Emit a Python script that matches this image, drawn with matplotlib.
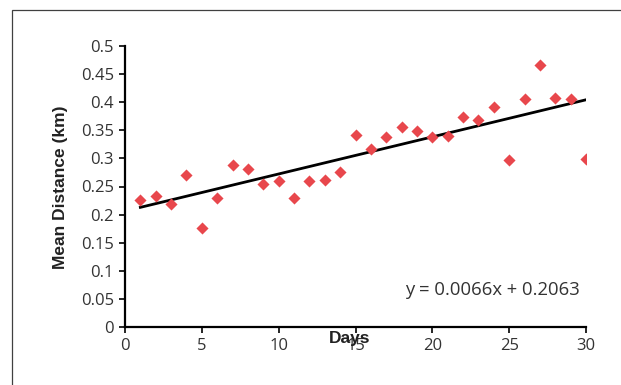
import numpy as np
import matplotlib
matplotlib.use("Agg")
import matplotlib.pyplot as plt
from matplotlib.patches import Rectangle

plt.rcParams['font.family'] = ['Open Sans', 'DejaVu Sans']

# mean distance per day
days = list(range(1, 31))
mean_dist = [0.226, 0.233, 0.219, 0.270, 0.176, 0.229, 0.289, 0.281, 0.255, 0.260,
             0.230, 0.260, 0.261, 0.276, 0.341, 0.317, 0.338, 0.356, 0.349, 0.338,
             0.340, 0.373, 0.368, 0.392, 0.298, 0.405, 0.466, 0.407, 0.406, 0.299]

slope = 0.0066
intercept = 0.2063

W, H = 621, 385
fig = plt.figure(figsize=(W / 100, H / 100), dpi=100)
# outer chart frame (only left/top edges visible in the crop)
fig.add_artist(Rectangle((12 / W, -0.1), 1.2, 1.1 - 10 / H,
                         transform=fig.transFigure, fill=False,
                         edgecolor='#404040', lw=0.9))

ax = fig.add_axes([125 / W, 1 - 327 / H, 461 / W, 281 / H])

ax.scatter(days, mean_dist, marker='D', s=38, color='#E8474C', zorder=3, linewidths=0)

xs = np.array([days[0], days[-1]])
ax.plot(xs, slope * xs + intercept, color='black', lw=2.0, zorder=2)

ax.set_xlim(0, 30)
ax.set_ylim(0, 0.5)
ax.set_xticks([0, 5, 10, 15, 20, 25, 30])
ax.set_yticks(np.arange(0, 0.501, 0.05))
ax.set_yticklabels(['0', '0.05', '0.1', '0.15', '0.2', '0.25', '0.3', '0.35', '0.4', '0.45', '0.5'])

for s in ['top', 'right']:
    ax.spines[s].set_visible(False)
for s in ['left', 'bottom']:
    ax.spines[s].set_linewidth(1.6)
ax.tick_params(direction='out', length=4, width=1.2, labelsize=12,
               labelcolor='#333333', pad=4)

lab_font = dict(family=['Liberation Sans', 'DejaVu Sans'], fontweight='bold',
                fontsize=12.5, color='#222222')
fig.text(350 / W, 1 - 338 / H, 'Days', ha='center', va='center', **lab_font)
fig.text(60 / W, 1 - 187 / H, 'Mean Distance (km)', ha='center', va='center',
         rotation=90, **lab_font)

ax.text(580 / W, 1 - 290 / H, 'y = 0.0066x + 0.2063', transform=fig.transFigure,
        ha='right', va='center', fontsize=13.3, color='#333333')

fig.savefig('out.png', dpi=100)
